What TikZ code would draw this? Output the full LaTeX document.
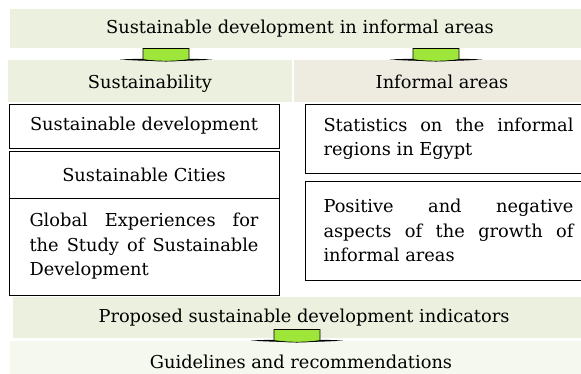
\documentclass[tikz,border=0pt]{standalone}
\usepackage{fontspec}
\setmainfont{DejaVu Serif}
\begin{document}
\begin{tikzpicture}[x=1pt,y=-1pt,
  txt/.style={font=\fontsize{17.8}{24.5}\selectfont, inner sep=0pt},
  band/.style={txt, fill=bandgreen, draw=none},
  header/.style={band, minimum height=42, text height=19.5, text depth=4.5},
  box/.style={txt, draw=black, line width=1pt, fill=white},
  greentab/.pic={
    % tapered black base line
    \fill[black] (-46,0) .. controls (-20,-1.3) and (20,-1.3) .. (46,0)
                 .. controls (20,2) and (-20,2) .. cycle;
    % green tab with curved bottom edge
    \filldraw[fill=tabgreen, draw=black, line width=0.7pt]
      (-23,0) -- (-23,-11) -- (23,-11) -- (23,0)
      .. controls (10,2.2) and (-10,2.2) .. cycle;
  }]
\definecolor{bandgreen}{HTML}{EBF1DE}
\definecolor{bandtan}{HTML}{EEECE1}
\definecolor{bandpale}{HTML}{F5F8EE}
\definecolor{tabgreen}{HTML}{9FE63A}

\useasboundingbox (0,0) rectangle (581,373);

% headline band
\node[band, minimum width=580, minimum height=39] (title) at (300,28.5)
  {Sustainable development in informal areas};

% two section headers
\node[header, minimum width=284] (sus) at (150,81) {Sustainability};
\node[header, fill=bandtan, minimum width=296] (inf) at (442,81) {Informal areas};

% left column boxes
\node[box, minimum width=270, minimum height=44] (sd) at (144,126) {Sustainable development};
\node[box, minimum width=270, minimum height=47] (sc) at (144,174.5) {Sustainable Cities};
\node[box, minimum width=270, minimum height=97, text width=229, align=justify] (ge) at (144,246.5)
  {Global Experiences for\linebreak the Study of Sustainable\linebreak Development};

% right column boxes
\node[box, anchor=west, inner xsep=18, text width=250, minimum height=69, align=justify] (st) at (305,138.5)
  {Statistics on the informal\linebreak regions in Egypt};
\node[box, anchor=west, inner xsep=18, text width=250, minimum height=99, align=justify] (pn) at (305,230.5)
  {Positive and negative\linebreak aspects of the growth of\linebreak informal areas};

% lower bands
\node[band, minimum width=582, minimum height=41] (ind) at (304,317.5)
  {Proposed sustainable development indicators};
\node[band, fill=bandpale, minimum width=582, minimum height=42] (gr) at (301,362)
  {Guidelines and recommendations};

% tabs joining the bands
\coordinate (t1) at (166,59.5);
\coordinate (t2) at (436,59.5);
\coordinate (t3) at (297,340.5);
\pic at (t1) {greentab};
\pic at (t2) {greentab};
\pic at (t3) {greentab};
\end{tikzpicture}
\end{document}
